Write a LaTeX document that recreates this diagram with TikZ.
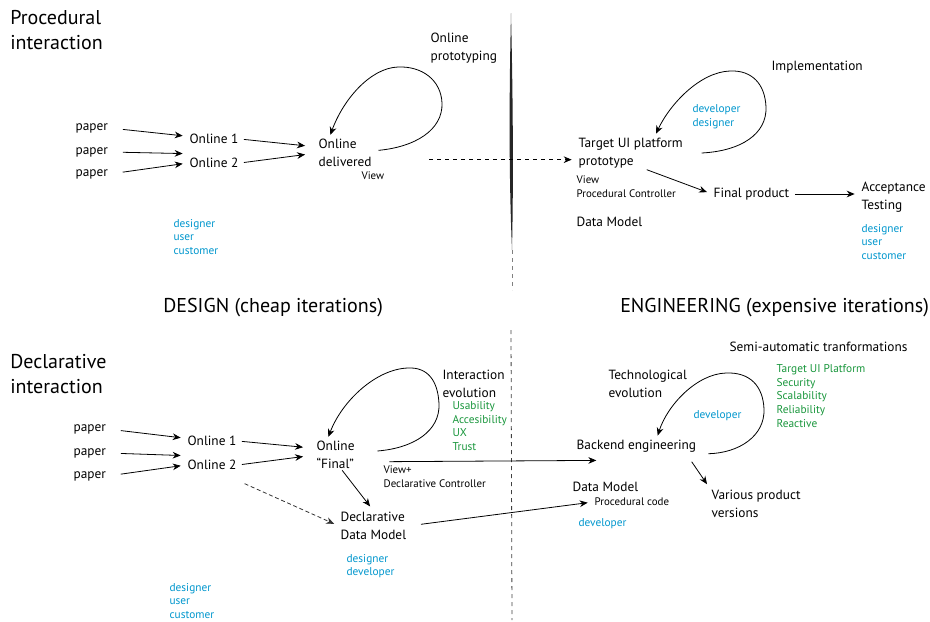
\documentclass[tikz,border=0pt]{standalone}
\usepackage{fontspec}
\setmainfont{PT Sans}
\usetikzlibrary{arrows.meta}
\definecolor{roleblue}{RGB}{0,150,205}
\definecolor{qualgreen}{RGB}{25,150,60}
\tikzset{
  lbl/.style={font=\fontsize{10}{13.5}\selectfont, align=left, inner sep=1pt, anchor=west},
  small/.style={font=\fontsize{8.2}{10.5}\selectfont, align=left, inner sep=1pt, anchor=west},
  role/.style={font=\fontsize{8.5}{10.2}\selectfont, text=roleblue, align=left, inner sep=1pt, anchor=west},
  qual/.style={font=\fontsize{8.5}{10.3}\selectfont, text=qualgreen, align=left, inner sep=1pt, anchor=west},
  title/.style={font=\fontsize{15}{18.75}\selectfont, align=left, inner sep=0pt, anchor=west},
  head/.style={font=\fontsize{15}{18}\selectfont, inner sep=0pt, anchor=west},
  flow/.style={line width=0.6pt, -{Stealth[length=6pt,width=5pt]}, shorten <=3pt, shorten >=4pt},
  loopflow/.style={line width=0.6pt, -{Stealth[length=6pt,width=5pt]}},
}
\begin{document}
\begin{tikzpicture}[x=0.75pt,y=-0.75pt]
\useasboundingbox (0,0) rectangle (930,621);

% divider between design and engineering
\fill[black!85] (511,13) .. controls (513,100) and (513.5,180) .. (512,250)
  .. controls (509,180) and (509,100) .. (511,13);
\draw[black!50, dashed, line width=0.4pt] (512,250) -- (512,290);
\draw[black!75, dashed, line width=0.6pt] (511,330) -- (512,620);

% procedural interaction
\node[title] (ptitle) at (10,30) {Procedural\\interaction};
\node[lbl] (pap1) at (74,128) {paper};
\node[lbl] (pap2) at (74,152) {paper};
\node[lbl] (pap3) at (74,174) {paper};
\node[lbl] (on1) at (188,139) {Online 1};
\node[lbl] (on2) at (188,163) {Online 2};
\node[lbl] (odel) at (317,153) {Online\\delivered};
\node[small] (view1) at (360,176) {View};
\node[lbl] (proto) at (429,48) {Online\\prototyping};
\node[role] (roles1) at (172,237) {designer\\user\\customer};

\node[lbl] (tgt) at (577,153) {Target UI platform\\prototype};
\node[small] (viewpc) at (575,187) {View\\Procedural Controller};
\node[lbl] (dm1) at (575,222) {Data Model};
\node[lbl] (impl) at (770,67) {Implementation};
\node[role] (roles2) at (691,117) {developer\\designer};
\node[lbl] (final) at (712,194) {Final product};
\node[lbl] (accept) at (860,197) {Acceptance\\Testing};
\node[role] (roles3) at (860,242) {designer\\user\\customer};

\draw[flow, shorten <=10pt] (pap1.east) -- ([yshift=2pt]on1.west);
\draw[flow, shorten <=10pt] (pap2.east) -- ([yshift=7pt]on2.west);
\draw[flow, shorten <=10pt] (pap3.east) -- (on2.west);
\draw[flow, shorten >=9pt] (on1.east) -- ([yshift=4.5pt]odel.west);
\draw[flow, shorten >=9pt] (on2.east) -- (odel.west);
\draw[flow, dashed, shorten <=0pt] ([xshift=42pt,yshift=-5pt]odel.east) -- ([yshift=-5pt]tgt.west);
\draw[flow, shorten <=0pt] ([xshift=12pt]tgt.south) -- (final.west);
\draw[flow] (final.east) -- (final.east -| accept.west);

% iteration loops (top)
\draw[loopflow] ([xshift=4pt,yshift=2pt]odel.east) .. controls (415,147) and (443,130) .. (442,103)
  .. controls (441,80) and (422,66) .. (398,67)
  .. controls (370,68) and (343,100) .. ([xshift=10pt,yshift=2pt]odel.north west);
\draw[loopflow] ([xshift=13pt]tgt.east) .. controls (741,151) and (767,134) .. (766,107)
  .. controls (765,84) and (752,70) .. (730,71)
  .. controls (700,72) and (670,104) .. ([xshift=19pt,yshift=2pt]tgt.north);

% section headings
\node[head] (design) at (163,308) {DESIGN (cheap iterations)};
\node[head] (engin) at (620,308) {ENGINEERING (expensive iterations)};

% declarative interaction
\node[title] (dtitle) at (10,374) {Declarative\\interaction};
\node[lbl] (pap4) at (72,429) {paper};
\node[lbl] (pap5) at (72,453) {paper};
\node[lbl] (pap6) at (72,476) {paper};
\node[lbl] (on3) at (186,441) {Online 1};
\node[lbl] (on4) at (186,465) {Online 2};
\node[lbl] (ofin) at (315,455) {Online\\“Final”};
\node[lbl] (ievo) at (441,384) {Interaction\\evolution};
\node[qual] (quals1) at (451,426) {Usability\\Accesibility\\UX\\Trust};
\node[small] (viewdc) at (382,477) {View+\\Declarative Controller};
\node[lbl] (ddm) at (339,526) {Declarative\\Data Model};
\node[role] (roles4) at (345,566) {designer\\developer};
\node[role] (roles5) at (168,601) {designer\\user\\customer};

\node[lbl] (semi) at (728,347) {Semi-automatic tranformations};
\node[qual] (quals2) at (775,396) {Target UI Platform\\Security\\Scalability\\Reliability\\Reactive};
\node[lbl] (techevo) at (607,384) {Technological\\evolution};
\node[role] (roles6) at (692,416) {developer};
\node[lbl] (backend) at (575,446) {Backend engineering};
\node[lbl] (various) at (710,504) {Various product\\versions};
\node[lbl] (dm2) at (571,487) {Data Model};
\node[small] (pcode) at (593,502) {Procedural code};
\node[role] (roles7) at (577,524) {developer};

\draw[flow, shorten <=10pt] (pap4.east) -- ([yshift=2pt]on3.west);
\draw[flow, shorten <=10pt] (pap5.east) -- ([yshift=7pt]on4.west);
\draw[flow, shorten <=10pt] (pap6.east) -- (on4.west);
\draw[flow, shorten >=9pt] (on3.east) -- ([yshift=5pt]ofin.west);
\draw[flow, shorten >=9pt] (on4.east) -- (ofin.west);
\draw[flow, shorten <=0pt] ([xshift=5pt]ofin.south) -- (ddm.north);
\draw[flow, densely dashed, black!80, shorten <=0pt] ([xshift=5pt,yshift=-14pt]on4.east) -- (ddm.west);
\draw[flow, shorten <=0pt, shorten >=0pt] ([xshift=25pt,yshift=-5pt]ofin.east) -- ([xshift=16pt,yshift=-5pt]backend.south west);
\draw[flow, shorten <=10pt] (ddm.east) -- (pcode.west);
\draw[flow, shorten <=0pt] ([xshift=-4.5pt,yshift=-6pt]backend.south east) -- (various.north west);

% iteration loops (bottom)
\draw[loopflow] ([xshift=16pt,yshift=3pt]ofin.east) .. controls (414,448) and (440,431) .. (439,404)
  .. controls (438,381) and (428,367) .. (408,368)
  .. controls (376,369) and (342,401) .. ([xshift=10pt,yshift=2pt]ofin.north west);
\draw[loopflow] ([xshift=8pt]backend.south east) .. controls (739,453) and (765,436) .. (764,409)
  .. controls (763,386) and (750,372) .. (726,373)
  .. controls (696,374) and (667,406) .. ([xshift=16pt,yshift=2pt]backend.north);
\end{tikzpicture}
\end{document}
